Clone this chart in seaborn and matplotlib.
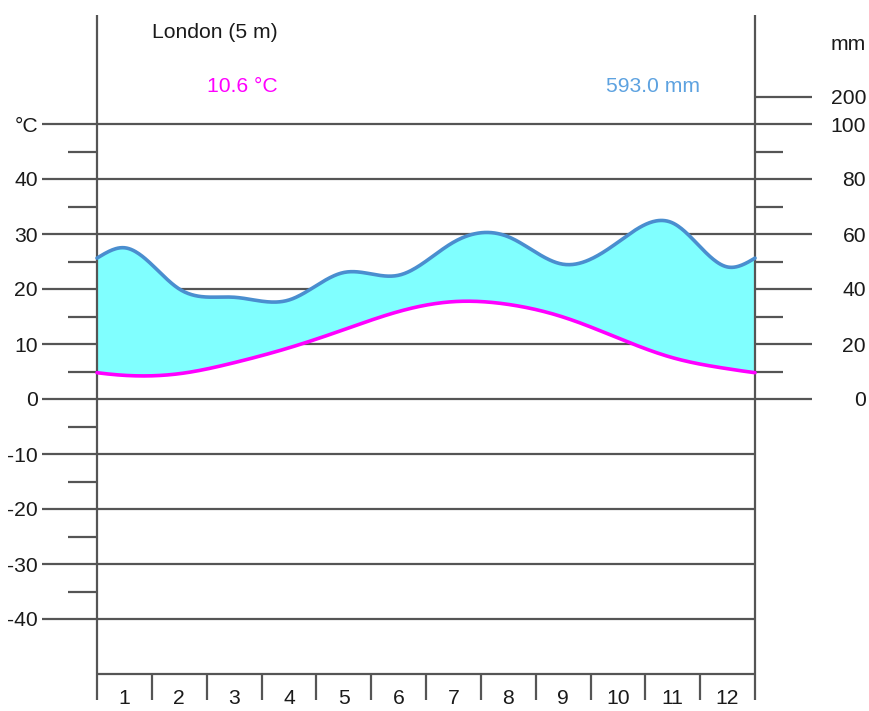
import numpy as np
import pandas as pd
import matplotlib
matplotlib.use("Agg")
import matplotlib.pyplot as plt
import seaborn as sns

# ---- data ----
months = list(range(1, 13))
temp_c = [4.3, 4.6, 6.6, 9.3, 12.6, 15.9, 17.7, 17.2, 14.9, 11.1, 7.5, 5.5]
precip_mm = [55, 40, 37, 36, 46, 45, 57, 59, 49, 57, 64, 48]
station = "London (5 m)"
mean_temp_label = "10.6 °C"
total_precip_label = "593.0 mm"
temp_ticks = [40, 30, 20, 10, 0, -10, -20, -30, -40]
precip_ticks = [100, 80, 60, 40, 20, 0]
precip_high_tick = 200

sns.set_style("white")
plt.rcParams["font.family"] = ["Liberation Sans", "DejaVu Sans"]

# pixel -> data helpers for layout (x in months, y in degC)
PX_X0, PX_MONTH = 97.0, 658.0 / 12.0
PX_Y0, PX_DEG = 399.0, 5.5
W, H = 870, 711
TXT_DY = 2.0  # small downward correction for text centring


def mx(px):
    return (px - PX_X0) / PX_MONTH


def ty(py):
    return (PX_Y0 - py) / PX_DEG


def periodic_spline(vals, m):
    y = np.asarray(vals, float)
    n = len(y)
    A = np.zeros((n, n))
    for i in range(n):
        A[i, i] = 4
        A[i, (i - 1) % n] = 1
        A[i, (i + 1) % n] = 1
    rhs = 6 * (np.roll(y, 1) - 2 * y + np.roll(y, -1))
    M = np.linalg.solve(A, rhs)
    u = m - 0.5
    fl = np.floor(u)
    i = fl.astype(int) % n
    t = u - fl
    j = (i + 1) % n
    return ((1 - t) * y[i] + t * y[j]
            + ((1 - t) ** 3 - (1 - t)) * M[i] / 6 + (t ** 3 - t) * M[j] / 6)


fig = plt.figure(figsize=(W / 100, H / 100), dpi=100)
ax = fig.add_axes([0, 0, 1, 1])
ax.set_xlim(mx(0), mx(W))
ax.set_ylim(ty(H), ty(0))
ax.axis("off")

grid_c = "#555555"
lw_grid = 1.6
txt_c = "#1a1a1a"
fs = 15.2
dy = TXT_DY / PX_DEG

# horizontal grid lines
for t in range(-40, 60, 10):
    right = mx(812) if t >= 0 else mx(755)
    ax.plot([mx(42), right], [t, t], color=grid_c, lw=lw_grid, zorder=1,
            solid_capstyle="butt")
# left minor ticks
for t in range(-35, 50, 10):
    ax.plot([mx(68), 0], [t, t], color=grid_c, lw=lw_grid, zorder=1,
            solid_capstyle="butt")
# right minor ticks
for t in range(5, 50, 10):
    ax.plot([12, mx(783)], [t, t], color=grid_c, lw=lw_grid, zorder=4,
            solid_capstyle="butt")
# 200 mm tick (compressed scale above 100 mm)
y200 = 50 + (precip_high_tick - 100) / 20.0
ax.plot([12, mx(812)], [y200, y200], color=grid_c, lw=lw_grid, zorder=4,
        solid_capstyle="butt")

# smoothed curves
mm = np.linspace(0, 12, 600)
t_s = periodic_spline(temp_c, mm)
p_s = periodic_spline(precip_mm, mm) / 2.0
ax.fill_between(mm, t_s, p_s, where=p_s >= t_s, color="#80ffff", lw=0,
                zorder=2, interpolate=True)
df = pd.DataFrame({"m": np.concatenate([mm, mm]),
                   "v": np.concatenate([p_s, t_s]),
                   "s": ["p"] * len(mm) + ["t"] * len(mm)})
sns.lineplot(data=df, x="m", y="v", hue="s", palette={"p": "#4a8ecf", "t": "#ff00ff"},
             linewidth=2.6, legend=False, ax=ax, zorder=5, sort=False,
             estimator=None)

# axis frame lines
for xv in (0, 12):
    ax.plot([xv, xv], [ty(700), ty(15)], color=grid_c, lw=lw_grid, zorder=4,
            solid_capstyle="butt")
ax.plot([0, 12], [-50, -50], color=grid_c, lw=lw_grid, zorder=4,
        solid_capstyle="butt")
for k in range(1, 12):
    ax.plot([k, k], [-50, ty(700)], color=grid_c, lw=lw_grid, zorder=4,
            solid_capstyle="butt")

# labels
ax.set_xlabel("")
ax.set_ylabel("")
ax.text(mx(38), 50 - dy, "°C", ha="right", va="center", fontsize=fs, color=txt_c)
for t in temp_ticks:
    ax.text(mx(38), t - dy, str(t), ha="right", va="center", fontsize=fs,
            color=txt_c)
ax.text(mx(866), ty(43) - dy, "mm", ha="right", va="center", fontsize=fs,
        color=txt_c)
ax.text(mx(866), y200 - dy, str(precip_high_tick), ha="right", va="center",
        fontsize=fs, color=txt_c)
for p in precip_ticks:
    ax.text(mx(866), p / 2.0 - dy, str(p), ha="right", va="center", fontsize=fs,
            color=txt_c)
for m_ in months:
    ax.text(m_ - 0.5, ty(699), str(m_), ha="center", va="center",
            fontsize=fs, color=txt_c)
ax.text(mx(278), ty(31) - dy, station, ha="right", va="center", fontsize=fs,
        color=txt_c)
ax.text(mx(278), ty(84) - dy, mean_temp_label, ha="right", va="center",
        fontsize=fs, color="#ff00ff")
ax.text(mx(653), ty(85) - dy, total_precip_label, ha="center", va="center",
        fontsize=fs, color="#5da2e0")

fig.savefig("out.png", dpi=100)
